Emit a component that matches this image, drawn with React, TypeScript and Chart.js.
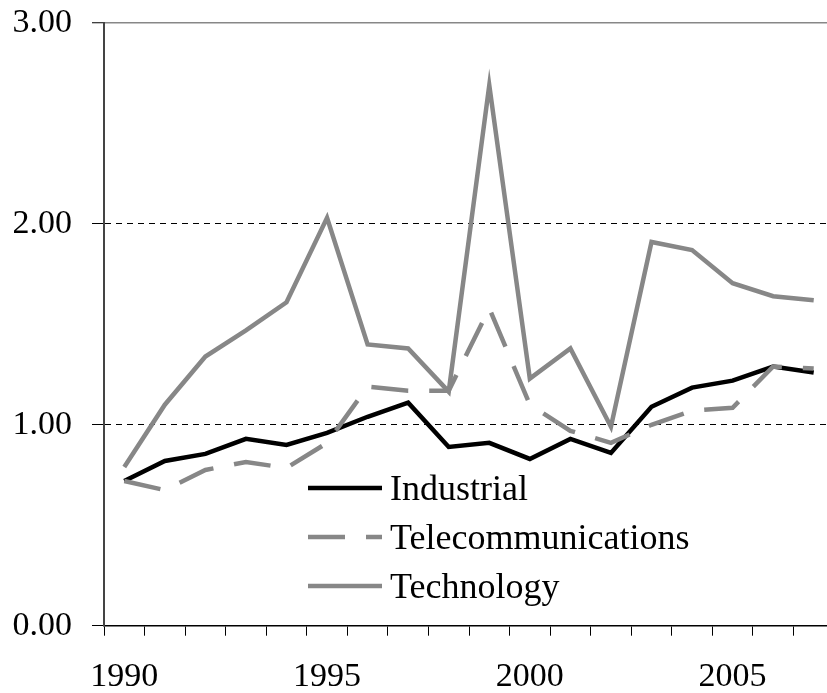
import { useEffect, useRef } from 'react';
import { Chart, registerables } from 'chart.js';

Chart.register(...registerables);

const years = ['1990', '1991', '1992', '1993', '1994', '1995', '1996', '1997', '1998', '1999', '2000', '2001', '2002', '2003', '2004', '2005', '2006', '2007'];
const industrial = [0.72, 0.82, 0.855, 0.93, 0.9, 0.96, 1.04, 1.11, 0.89, 0.91, 0.83, 0.93, 0.86, 1.09, 1.185, 1.22, 1.29, 1.26];
const telecommunications = [0.72, 0.675, 0.775, 0.815, 0.785, 0.91, 1.19, 1.17, 1.17, 1.58, 1.1, 0.97, 0.91, 1.0, 1.07, 1.085, 1.29, 1.28];
const technology = [0.79, 1.1, 1.34, 1.47, 1.61, 2.03, 1.4, 1.38, 1.165, 2.69, 1.23, 1.38, 0.99, 1.91, 1.87, 1.705, 1.64, 1.62];
const labeledYears = ['1990', '1995', '2000', '2005'];
const yMin = 0;
const yMax = 3;
const yStep = 1;

const FONT = "'Liberation Serif'";
const GRAY = '#878787';

const insideLegend = {
  id: 'insideLegend',
  afterDraw(chart: any) {
    const ctx = chart.ctx as CanvasRenderingContext2D;
    ctx.save();
    chart.data.datasets.forEach((ds: any, i: number) => {
      const y = 488 + i * 49;
      ctx.beginPath();
      ctx.setLineDash(ds.borderDash || []);
      ctx.lineCap = 'butt';
      ctx.strokeStyle = ds.borderColor;
      ctx.lineWidth = ds.borderWidth;
      ctx.moveTo(308, y);
      ctx.lineTo(382, y);
      ctx.stroke();
      ctx.setLineDash([]);
      ctx.fillStyle = '#000';
      ctx.font = `36px ${FONT}`;
      ctx.textBaseline = 'alphabetic';
      ctx.textAlign = 'left';
      ctx.fillText(ds.label, 390, y + 12);
    });
    ctx.restore();
  },
};

export default function App() {
  const ref = useRef<HTMLCanvasElement | null>(null);

  useEffect(() => {
    if (!ref.current) return;
    const chart = new Chart(ref.current, {
      type: 'line',
      data: {
        labels: years,
        datasets: [
          {
            label: 'Industrial',
            data: industrial,
            borderColor: '#000000',
            borderWidth: 4.5,
            pointRadius: 0,
            tension: 0,
            order: 3,
          },
          {
            label: 'Telecommunications',
            data: telecommunications,
            borderColor: GRAY,
            borderWidth: 4.5,
            borderDash: [37, 21],
            pointRadius: 0,
            tension: 0,
            order: 2,
          },
          {
            label: 'Technology',
            data: technology,
            borderColor: GRAY,
            borderWidth: 4.5,
            pointRadius: 0,
            tension: 0,
            order: 1,
          },
        ],
      },
      options: {
        animation: false,
        responsive: false,
        events: [],
        font: { family: FONT },
        layout: { padding: { top: 23, right: 0, bottom: 0, left: 0 } },
        plugins: {
          legend: { display: false },
          tooltip: { enabled: false },
        },
        scales: {
          x: {
            type: 'category',
            offset: true,
            afterFit: (s: any) => {
              s.height = 67.3;
              s.paddingLeft = 0;
              s.paddingRight = 0;
            },
            grid: {
              offset: true,
              drawOnChartArea: false,
              drawTicks: true,
              tickLength: 10,
              tickColor: '#000',
              tickWidth: 1,
            },
            border: { display: true, color: '#000', width: 1.5 },
            ticks: {
              autoSkip: false,
              maxRotation: 0,
              minRotation: 0,
              padding: 21,
              color: '#000',
              font: { family: FONT, size: 34 },
              callback: (value: any, index: number) => {
                const y = years[index];
                return labeledYears.includes(y) ? y : '';
              },
            },
          },
          y: {
            min: yMin,
            max: yMax,
            afterFit: (s: any) => {
              s.width = 104;
              s.paddingTop = 0;
              s.paddingBottom = 0;
            },
            grid: {
              drawTicks: true,
              tickLength: 12,
              tickColor: '#000',
              tickWidth: 1,
              color: (c: any) => (c.tick && c.tick.value === yMax ? GRAY : '#000'),
              lineWidth: (c: any) => (c.tick && c.tick.value === yMax ? 1.5 : 1),
            },
            border: {
              display: true,
              color: '#444',
              width: 2,
              dash: (c: any) =>
                c.tick && c.tick.value > yMin && c.tick.value < yMax ? [6, 5] : [],
            },
            ticks: {
              stepSize: yStep,
              padding: 20,
              color: '#000',
              font: { family: FONT, size: 34 },
              callback: (v: any) => Number(v).toFixed(2),
            },
          },
        },
      },
      plugins: [insideLegend],
    });
    return () => chart.destroy();
  }, []);

  return (
    <div style={{ position: 'absolute', left: 0, top: 0, width: 827, height: 693, overflow: 'hidden', background: '#fff' }}>
      <canvas ref={ref} width={834} height={693} style={{ display: 'block' }} />
    </div>
  );
}
